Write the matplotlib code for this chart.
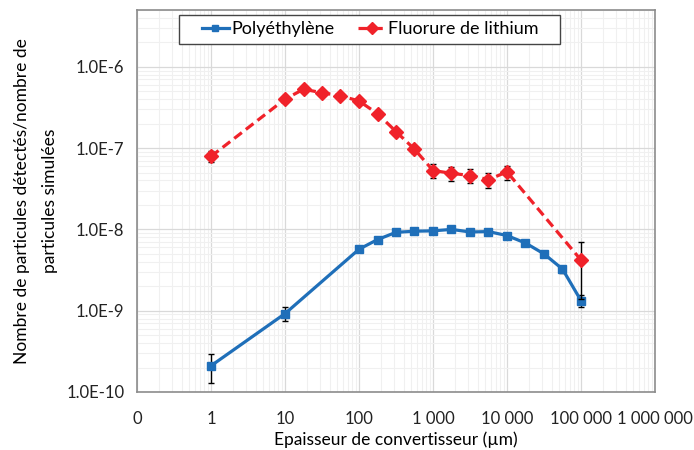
import numpy as np
import matplotlib
matplotlib.use('Agg')
import matplotlib.pyplot as plt
from matplotlib.lines import Line2D
from matplotlib.patches import Rectangle
from matplotlib.ticker import FixedLocator, FuncFormatter, LogLocator, NullFormatter

plt.rcParams['font.family'] = ['Lato', 'DejaVu Sans']

# ---------------------------------------------------------------- data
pe_x = [1, 10, 100, 178, 316, 562, 1000, 1778, 3162, 5623, 10000, 17783, 31623, 56234, 100000]
pe_y = [2.1e-10, 9.2e-10, 5.7e-9, 7.5e-9, 9.2e-9, 9.5e-9, 9.6e-9, 1.0e-8, 9.3e-9,
        9.4e-9, 8.4e-9, 6.8e-9, 5.0e-9, 3.25e-9, 1.33e-9]
pe_err = [0.8e-10, 1.8e-10, 0.3e-9, 0.2e-9, 0.2e-9, 0.2e-9, 0.2e-9, 0.2e-9, 0.2e-9,
          0.2e-9, 0.2e-9, 0.2e-9, 0.2e-9, 0.3e-9, 0.22e-9]

lif_x = [1, 10, 17.8, 31.6, 56.2, 100, 178, 316, 562, 1000, 1778, 3162, 5623, 10000, 100000]
lif_y = [7.9e-8, 4.0e-7, 5.3e-7, 4.8e-7, 4.4e-7, 3.8e-7, 2.65e-7, 1.6e-7, 9.7e-8,
         5.3e-8, 4.9e-8, 4.6e-8, 4.1e-8, 5.1e-8, 4.2e-9]
lif_err = [1.2e-8, 1.5e-8, 1.5e-8, 1.5e-8, 1.5e-8, 1.5e-8, 1.2e-8, 1.0e-8, 1.0e-8,
           1.0e-8, 1.0e-8, 0.9e-8, 0.9e-8, 1.0e-8, 2.8e-9]

x_ticks = [0.1, 1, 10, 100, 1000, 10000, 100000, 1000000]
x_labels = ['0', '1', '10', '100', '1 000', '10 000', '100 000', '1 000 000']
y_ticks = [1e-10, 1e-9, 1e-8, 1e-7, 1e-6]
y_labels = ['1.0E-10', '1.0E-9', '1.0E-8', '1.0E-7', '1.0E-6']

# ---------------------------------------------------------------- plot
fig = plt.figure(figsize=(6.94, 4.5), dpi=100)
ax = fig.add_axes([0.1974, 0.1289, 0.7464, 0.8489])

blue = '#1F6FB9'
red = '#F0222A'
dash = (0, (3, 1.6))

ax.errorbar(pe_x, pe_y, yerr=pe_err, color=blue, lw=2.3, marker='s', ms=6,
            ecolor='black', elinewidth=1, capsize=2.5, capthick=1, zorder=3)
ax.errorbar(lif_x, lif_y, yerr=lif_err, color=red, lw=2.3, ls=dash,
            marker='D', ms=7, ecolor='black', elinewidth=1, capsize=2.5,
            capthick=1, zorder=4)

ax.set_xscale('log')
ax.set_yscale('log')
ax.set_xlim(0.1, 1e6)
ax.set_ylim(1e-10, 5e-6)

ax.xaxis.set_major_locator(FixedLocator(x_ticks))
ax.xaxis.set_major_formatter(FuncFormatter(lambda v, p: x_labels[x_ticks.index(v)] if v in x_ticks else ''))
ax.yaxis.set_major_locator(FixedLocator(y_ticks))
ax.yaxis.set_major_formatter(FuncFormatter(lambda v, p: y_labels[y_ticks.index(v)] if v in y_ticks else ''))
ax.xaxis.set_minor_locator(LogLocator(base=10, subs=np.arange(2, 10), numticks=20))
ax.yaxis.set_minor_locator(LogLocator(base=10, subs=np.arange(2, 10), numticks=20))
ax.xaxis.set_minor_formatter(NullFormatter())
ax.yaxis.set_minor_formatter(NullFormatter())

ax.grid(which='major', color='#d9d9d9', lw=0.9)
ax.grid(which='minor', color='#f0f0f0', lw=0.8)
ax.set_axisbelow(True)
ax.tick_params(which='both', length=0, labelsize=12, colors='#222222')
ax.tick_params(axis='x', pad=14)
ax.tick_params(axis='y', pad=9)
for s in ax.spines.values():
    s.set_color('#8c8c8c')
    s.set_linewidth(1.2)

ax.set_xlabel('Epaisseur de convertisseur (µm)', fontsize=12.5, labelpad=3)
ax.set_ylabel('Nombre de particules détectés/nombre de\nparticules simulées',
              fontsize=12.5, labelpad=6, linespacing=1.9)

# legend: Excel-style box, wider than the entries
ax.add_patch(Rectangle((0.081, 0.911), 0.7356, 0.0759, transform=ax.transAxes,
                       facecolor='white', edgecolor='#444444', lw=1.0, zorder=5))
handles = [Line2D([], [], color=blue, lw=2.3, marker='s', ms=5),
           Line2D([], [], color=red, lw=2.3, ls=dash, marker='D', ms=6)]
leg = ax.legend(handles, ['Polyéthylène', 'Fluorure de lithium'],
                loc='center', ncol=2, bbox_to_anchor=(0.45, 0.949),
                fontsize=13, frameon=False, handlelength=1.5,
                columnspacing=1.3, borderpad=0, handletextpad=0.15)
leg.set_zorder(6)

fig.savefig('out.png', dpi=100)
